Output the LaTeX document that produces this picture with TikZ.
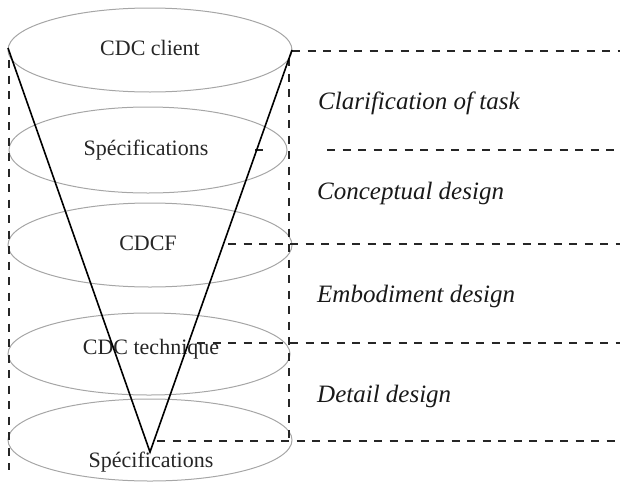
\documentclass[tikz,border=0pt]{standalone}
\usepackage{fontspec}
\setmainfont{Liberation Serif}
\begin{document}
\begin{tikzpicture}[x=1pt,y=-1pt,
  disc/.style={draw=black!35,line width=1pt},
  lbl/.style={font=\fontsize{22}{24}\selectfont,text=black!85,inner sep=0pt},
  phase/.style={font=\fontsize{25}{28}\selectfont\itshape,text=black!90,anchor=west,inner sep=0pt},
  sep/.style={draw=black!85,line width=2pt,dash pattern=on 8pt off 7.5pt},
  vee/.style={draw=black,line width=1.6pt}]
\useasboundingbox (0,0) rectangle (620,482);
% ellipses
\draw[disc] (150,50) ellipse [x radius=142,y radius=42];
\draw[disc] (148,150) ellipse [x radius=139,y radius=43];
\draw[disc] (150,245) ellipse [x radius=142,y radius=42];
\draw[disc] (149,354) ellipse [x radius=141,y radius=41];
\draw[disc] (150,440) ellipse [x radius=142,y radius=41];
% labels
\node[lbl] (t1) at (150,48) {CDC client};
\node[lbl] (t2) at (146,150) {Spécifications};
\node[lbl] (t3) at (148,243) {CDCF};
\node[lbl] (t4) at (151,349) {CDC technique};
\node[lbl] (t5) at (151,462) {Spécifications};
% coordinates
\coordinate (lt) at (8,48);
\coordinate (rt) at (292,50);
\coordinate (ap) at (150,452);
\coordinate (lb) at (9,470);
\coordinate (ls) at (9,60);
\coordinate (rs) at (289,58);
\coordinate (rb) at (289,441);
\coordinate (h1a) at (292,51);  \coordinate (h1b) at (620,51);
\coordinate (h2a) at (327,150); \coordinate (h2b) at (620,150);
\coordinate (h2c) at (255,150); \coordinate (h2d) at (263,150);
\coordinate (h3a) at (228,244); \coordinate (h3b) at (620,244);
\coordinate (h4a) at (197,343); \coordinate (h4b) at (620,343);
\coordinate (h5a) at (157,441); \coordinate (h5b) at (620,441);
% dashed separators
\draw[sep] (ls) -- (lb);
\draw[sep] (rs) -- (rb);
\draw[sep] (h1a) -- (h1b);
\draw[sep] (h2a) -- (h2b);
\draw[draw=black!85,line width=2pt] (h2c) -- (h2d);
\draw[sep] (h3a) -- (h3b);
\draw[sep] (h4a) -- (h4b);
\draw[sep] (h5a) -- (h5b);
% V
\draw[vee] (lt) -- (ap) -- (rt);
% phases
\node[phase] (p1) at (318,103) {Clarification of task};
\node[phase] (p2) at (317,193) {Conceptual design};
\node[phase] (p3) at (317,296) {Embodiment design};
\node[phase] (p4) at (317,396) {Detail design};
\end{tikzpicture}
\end{document}
